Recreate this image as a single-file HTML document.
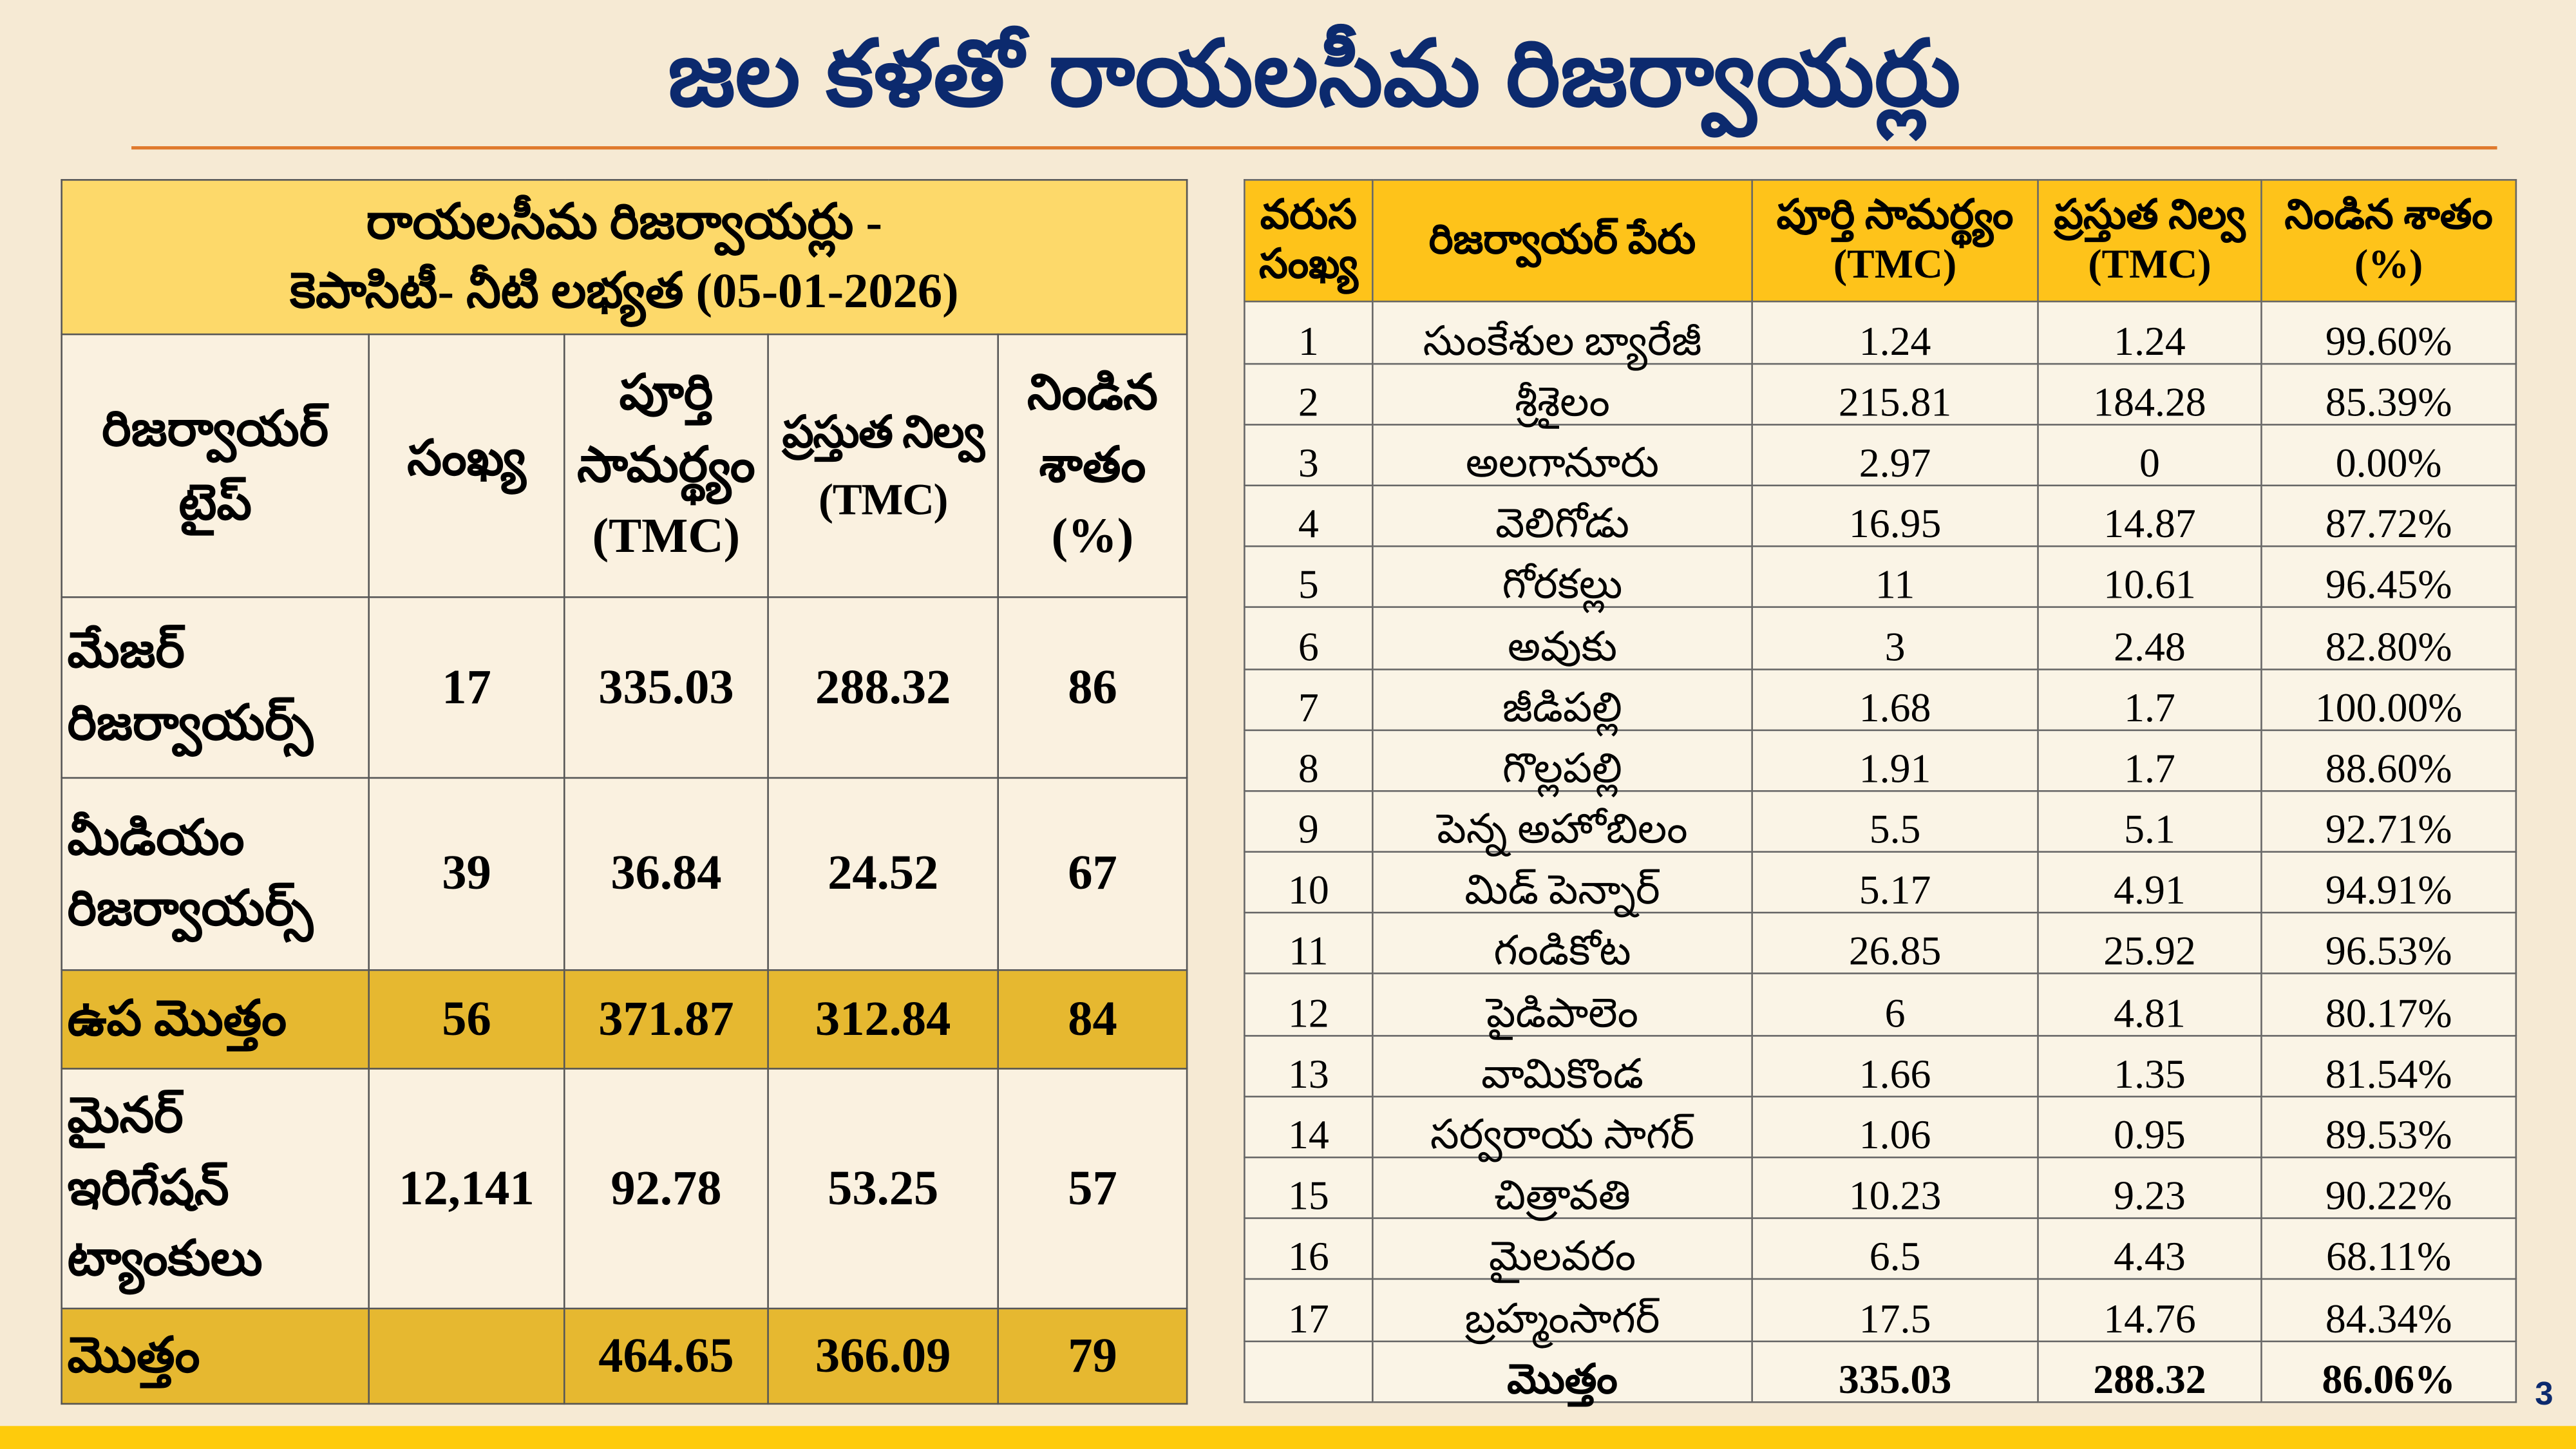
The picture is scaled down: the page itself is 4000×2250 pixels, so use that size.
<!DOCTYPE html>
<html><head><meta charset="utf-8"><style>
html,body{margin:0;padding:0;}
body{width:4000px;height:2250px;overflow:hidden;background:#f6ead4;}
#w{position:absolute;left:0;top:0;width:1568px;height:882px;transform:scale(2.5510);transform-origin:0 0;background:#f6ead4;font-family:"Liberation Serif","Noto Sans CJK SC",serif;}
.t{position:absolute;left:0;width:1600px;top:12px;text-align:center;font:bold 56px "Liberation Sans","Noto Sans CJK SC",sans-serif;color:#0c2a6e;}
.line{position:absolute;left:80px;width:1440px;top:89px;height:2px;background:#e07a2e;}
.band{position:absolute;left:0;top:868px;width:1568px;height:14px;background:#fecb0c;}
.pn{position:absolute;left:1543px;top:838px;font:bold 20px "Liberation Sans",sans-serif;color:#0c2a6e;}
table{position:absolute;border-collapse:collapse;table-layout:fixed;}
td{border:1px solid #555;padding:0;text-align:center;vertical-align:middle;color:#000;}
#L{left:37px;top:109px;width:685px;height:745px;font-weight:bold;font-size:30px;background:#faf1e0;}
#L td.l{text-align:left;padding-left:3px;line-height:1.45;}
#L .h{background:#fdd96a;font-size:30px;line-height:1.4;}
#L .g td{background:#e6b830;}
#R{left:757px;top:109px;width:774px;height:745px;font-size:25px;background:#faf4e6;}
#R .h td{background:#fec31a;font-weight:bold;font-size:25px;line-height:1.2;}
#R td{border-color:#666;}
#R tr.r td{height:36px;vertical-align:bottom;line-height:25px;}
#R tr.tot td{font-weight:bold;}
</style></head><body><div id="w">
<div class="t">జల కళతో రాయలసీమ రిజర్వాయర్లు</div>
<div class="line"></div>
<table id="L">
<colgroup><col style="width:187px"><col style="width:119px"><col style="width:124px"><col style="width:140px"><col style="width:115px"></colgroup>
<tr style="height:94px"><td class="h" colspan="5">రాయలసీమ రిజర్వాయర్లు -<br>కెపాసిటీ- నీటి లభ్యత (05-01-2026)</td></tr>
<tr style="height:160px"><td style="line-height:1.5">రిజర్వాయర్<br>టైప్</td><td>సంఖ్య</td><td style="line-height:1.45">పూర్తి<br>సామర్థ్యం<br>(TMC)</td><td style="line-height:1.5;white-space:nowrap;font-size:27px;letter-spacing:-0.5px">ప్రస్తుత నిల్వ<br>(TMC)</td><td style="line-height:1.45">నిండిన<br>శాతం<br>(%)</td></tr>
<tr style="height:110px"><td class="l">మేజర్<br>రిజర్వాయర్స్</td><td>17</td><td>335.03</td><td>288.32</td><td>86</td></tr>
<tr style="height:117px"><td class="l">మీడియం<br>రిజర్వాయర్స్</td><td>39</td><td>36.84</td><td>24.52</td><td>67</td></tr>
<tr class="g" style="height:60px"><td class="l">ఉప మొత్తం</td><td>56</td><td>371.87</td><td>312.84</td><td>84</td></tr>
<tr style="height:146px"><td class="l">మైనర్<br>ఇరిగేషన్<br>ట్యాంకులు</td><td>12,141</td><td>92.78</td><td>53.25</td><td>57</td></tr>
<tr class="g" style="height:58px"><td class="l">మొత్తం</td><td></td><td>464.65</td><td>366.09</td><td>79</td></tr>
</table>
<table id="R">
<colgroup><col style="width:78px"><col style="width:231px"><col style="width:174px"><col style="width:136px"><col style="width:155px"></colgroup>
<tr class="h" style="height:74px"><td>వరుస<br>సంఖ్య</td><td>రిజర్వాయర్ పేరు</td><td>పూర్తి సామర్థ్యం<br>(TMC)</td><td>ప్రస్తుత నిల్వ<br>(TMC)</td><td>నిండిన శాతం<br>(%)</td></tr>
<tr class="r"><td>1</td><td>సుంకేశుల బ్యారేజీ</td><td>1.24</td><td>1.24</td><td>99.60%</td></tr>
<tr class="r"><td>2</td><td>శ్రీశైలం</td><td>215.81</td><td>184.28</td><td>85.39%</td></tr>
<tr class="r"><td>3</td><td>అలగానూరు</td><td>2.97</td><td>0</td><td>0.00%</td></tr>
<tr class="r"><td>4</td><td>వెలిగోడు</td><td>16.95</td><td>14.87</td><td>87.72%</td></tr>
<tr class="r"><td>5</td><td>గోరకల్లు</td><td>11</td><td>10.61</td><td>96.45%</td></tr>
<tr class="r"><td>6</td><td>అవుకు</td><td>3</td><td>2.48</td><td>82.80%</td></tr>
<tr class="r"><td>7</td><td>జీడిపల్లి</td><td>1.68</td><td>1.7</td><td>100.00%</td></tr>
<tr class="r"><td>8</td><td>గొల్లపల్లి</td><td>1.91</td><td>1.7</td><td>88.60%</td></tr>
<tr class="r"><td>9</td><td>పెన్న అహోబిలం</td><td>5.5</td><td>5.1</td><td>92.71%</td></tr>
<tr class="r"><td>10</td><td>మిడ్ పెన్నార్</td><td>5.17</td><td>4.91</td><td>94.91%</td></tr>
<tr class="r"><td>11</td><td>గండికోట</td><td>26.85</td><td>25.92</td><td>96.53%</td></tr>
<tr class="r"><td>12</td><td>పైడిపాలెం</td><td>6</td><td>4.81</td><td>80.17%</td></tr>
<tr class="r"><td>13</td><td>వామికొండ</td><td>1.66</td><td>1.35</td><td>81.54%</td></tr>
<tr class="r"><td>14</td><td>సర్వరాయ సాగర్</td><td>1.06</td><td>0.95</td><td>89.53%</td></tr>
<tr class="r"><td>15</td><td>చిత్రావతి</td><td>10.23</td><td>9.23</td><td>90.22%</td></tr>
<tr class="r"><td>16</td><td>మైలవరం</td><td>6.5</td><td>4.43</td><td>68.11%</td></tr>
<tr class="r"><td>17</td><td>బ్రహ్మంసాగర్</td><td>17.5</td><td>14.76</td><td>84.34%</td></tr>
<tr class="r tot"><td></td><td>మొత్తం</td><td>335.03</td><td>288.32</td><td>86.06%</td></tr>
</table>
<div class="pn">3</div>
<div class="band"></div>
</div></body></html>
